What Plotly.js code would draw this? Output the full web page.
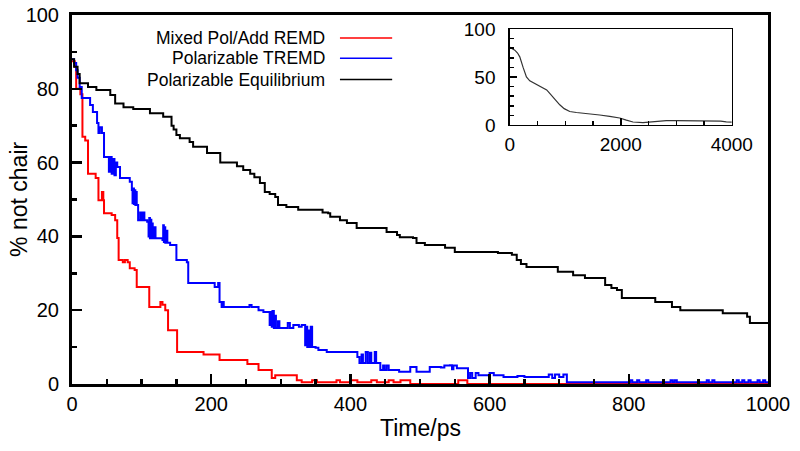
<!DOCTYPE html>
<html>
<head>
<meta charset="utf-8">
<script src="https://cdn.plot.ly/plotly-3.0.1.min.js"></script>
<style>html,body{margin:0;padding:0;background:#fff;}#chart{width:800px;height:451px;}</style>
</head>
<body>
<div id="chart"></div>
<script>
// Series names
const seriesNames = ["Mixed Pol/Add REMD", "Polarizable TREMD", "Polarizable Equilibrium"];

// Axis titles
const xTitle = "Time/ps";
const yTitle = "% not chair";

// Mixed Pol/Add REMD (red)
const redX = [0,4,6,12,15,19,23,34,38,43,45,46,57,62,65,67,73,76,80,83,90,93,111,127,130,134,138,151,189,212,252,268,287,292,323,330,345,352,380,385,400,410,430,438,455,462,472,486,555,568,1000];
const redY = [87.5,86,80,78.5,67,66,57,55.8,49.8,52,49.8,46.3,45.8,44.4,39.6,33.6,33,33.6,33,31.4,30.9,26.3,20.9,22.2,21.5,20,14.6,8.7,8,6.5,5.4,3.8,1.6,2.4,1,0.5,1,0.5,1,0.5,1,0.5,1,0.5,1,0.5,1,0,1,0,0];

// Polarizable TREMD (blue)
const blueX = [0,3,6,8,11,14,26,30,36,38,40,43,46,52,53,55,57,59,61,63,65,69,83,86,87,88,89,90,91,92,93,95,98,100,102,104,108,110,111,112,113,114,115,116,118,120,130,131,132,133,134,135,137,141,150,165,167,205,210,212,215,217,218,255,258,268,275,284,285,287,288,290,291,293,296,298,310,313,318,326,330,335,336,338,339,341,343,345,350,354,366,410,413,416,418,422,425,428,430,435,437,443,447,449,452,455,470,486,495,514,530,535,543,546,548,553,569,572,575,580,584,600,606,620,640,650,685,690,694,700,706,711,802,805,812,815,825,828,860,863,866,869,912,915,920,923,955,958,963,966,972,975,985,988,993,996,1000];
const blueY = [88,87,85,83,80.5,77.5,75.6,73.7,70.7,68,69.6,68,61.5,61.5,57.5,61.5,57,61,56.6,60,58.8,55.8,54.8,52.6,49,53,48.8,52.5,48.5,52,48.5,44.4,46.5,44.4,46.5,44.4,44,40,45,39.5,44.5,39.5,43.5,39.5,42.5,39.5,39,43,38.5,42.5,38.3,41.5,38.3,37.7,33.6,33,27.4,26.3,27.4,22.2,20.9,22.2,20.9,21.4,20.9,20,19.5,16,19.5,15.5,19.8,15.2,18.5,15.2,17,15.2,16.5,15.2,16,15.5,16,10.5,15.5,10,14.5,10,15.5,10,9.8,9.2,8.7,7.3,5.7,8,5.7,8.7,5.7,8.5,5.7,8.7,5.7,3.8,5,3.8,5,3.8,3.3,4.6,3.3,4.6,4.5,5,5.1,4,5,4.3,1.6,3,1.6,3,2.4,3,2.4,1.9,2.2,1.9,2.6,1.6,2.6,1.9,2.6,0.5,1,0.5,1,0.5,1,0.5,1,0.5,1,0.5,1,0.5,1,0.5,1,0.5,1,0.5,1,0.5,1,0.5,1,0.5,0.5];

// Polarizable Equilibrium (black)
const blackX = [0,3,8,11,23,35,55,62,74,88,112,131,143,146,150,155,169,174,194,213,237,246,256,262,270,277,284,292,296,308,325,360,368,371,385,395,409,452,467,471,490,495,507,536,550,612,632,639,645,653,698,720,737,766,775,783,790,838,862,874,935,970,974,1000];
const blackY = [88,86,84,81.5,80.5,79.7,78.3,76,75,74.5,73.4,72.4,70,69,67.5,66.6,65.6,64.3,62.6,60,59,58,57,56,54.5,52,51.5,50.7,48.5,48,47.2,46.5,46.3,45.3,44.4,43.6,42.3,41.2,40.4,39.8,39.6,38.2,37.7,36.9,35.8,35.5,35,33.6,32.5,31.7,30.4,29.5,28.7,26.8,26,25.5,23.3,22.2,20.9,20,19.2,18.2,16.5,16.5];

// Inset: Polarizable Equilibrium over 4000 ps
const insetX = [0,40,90,140,180,240,300,360,420,540,665,720,780,840,900,980,1080,1200,1300,1450,1620,1800,1980,2100,2220,2400,2500,2700,2820,3000,3200,3500,3800,3900,4000];
const insetY = [81,80,78,75,71,60,50,46,44,40,36.5,33,29,25,21,17,14,13,12.5,11.5,10.4,9,7.3,5,3.1,2.5,3.1,3.5,4.5,4.5,4.5,4.2,4,3.2,3];

// Tick labels
const mainXTicks = [0,200,400,600,800,1000];
const mainYTicks = [0,20,40,60,80,100];
const insetXTicks = [0,2000,4000];
const insetYTicks = [0,50,100];

const colors = ["#ff0000", "#0000ff", "#000000"];
const FONT = "Liberation Sans, Arial, Helvetica, sans-serif";

const traces = [
  {x: redX, y: redY, type: "scatter", mode: "lines", line: {color: colors[0], width: 2, shape: "hv"}, name: seriesNames[0], xaxis: "x", yaxis: "y"},
  {x: blueX, y: blueY, type: "scatter", mode: "lines", line: {color: colors[1], width: 2, shape: "hv"}, name: seriesNames[1], xaxis: "x", yaxis: "y"},
  {x: blackX, y: blackY, type: "scatter", mode: "lines", line: {color: colors[2], width: 2, shape: "hv"}, name: seriesNames[2], xaxis: "x", yaxis: "y"},
  {x: insetX, y: insetY, type: "scatter", mode: "lines", line: {color: "#333333", width: 1.2}, name: "inset", xaxis: "x2", yaxis: "y2"}
];

// legend rows built from series names (text right, sample line on the right)
const legY = [0.938, 0.883, 0.825];
const annotations = seriesNames.map((n, i) => ({
  xref: "paper", yref: "paper", x: 0.366, y: legY[i], xanchor: "right", yanchor: "middle",
  text: n, showarrow: false, font: {family: FONT, size: 17.5, color: "#000"}
}));
annotations.push({
  xref: "paper", yref: "paper", x: 0.5, y: -0.119, xanchor: "center", yanchor: "middle",
  text: xTitle, showarrow: false, font: {family: FONT, size: 23, color: "#000"}
});
annotations.push({
  xref: "paper", yref: "paper", x: -0.077, y: 0.5, xanchor: "center", yanchor: "middle",
  text: yTitle, textangle: -90, showarrow: false, font: {family: FONT, size: 23, color: "#000"}
});
const shapes = seriesNames.map((n, i) => ({
  type: "line", xref: "paper", yref: "paper", x0: 0.385, x1: 0.460, y0: legY[i], y1: legY[i],
  line: {color: colors[i], width: 1.5}
}));

const layout = {
  width: 800, height: 451,
  margin: {l: 72, r: 32, t: 15, b: 67},
  paper_bgcolor: "#fff", plot_bgcolor: "#fff",
  showlegend: false,
  font: {family: FONT, color: "#000"},
  xaxis: {
    domain: [0, 1], range: [0, 1000], showgrid: false, zeroline: false,
    showline: true, linewidth: 3, linecolor: "#000", mirror: true,
    ticks: "inside", ticklen: 10, tickwidth: 2.5, tickcolor: "#000",
    tickvals: mainXTicks, ticktext: mainXTicks.map(String),
    minor: {dtick: 50, ticks: "inside", ticklen: 5, tickwidth: 2.5, tickcolor: "#000", showgrid: false},
    tickfont: {family: FONT, size: 20}, ticklabelstandoff: 0
  },
  yaxis: {
    domain: [0, 1], range: [0, 100], showgrid: false, zeroline: false,
    showline: true, linewidth: 3, linecolor: "#000", mirror: true,
    ticks: "inside", ticklen: 10, tickwidth: 2.5, tickcolor: "#000",
    tickvals: mainYTicks, ticktext: mainYTicks.map(String),
    minor: {dtick: 10, ticks: "inside", ticklen: 5, tickwidth: 2.5, tickcolor: "#000", showgrid: false},
    tickfont: {family: FONT, size: 20}, ticklabelstandoff: 6
  },
  xaxis2: {
    domain: [0.629, 0.948], anchor: "y2", range: [0, 4000], showgrid: false, zeroline: false,
    showline: true, linewidth: 1.5, linecolor: "#000", mirror: true,
    ticks: "inside", ticklen: 7, tickwidth: 1.5, tickcolor: "#000",
    tickvals: insetXTicks, ticktext: insetXTicks.map(String),
    minor: {dtick: 500, ticks: "inside", ticklen: 4, tickwidth: 1.5, tickcolor: "#000", showgrid: false},
    tickfont: {family: FONT, size: 19}, ticklabelstandoff: 2
  },
  yaxis2: {
    domain: [0.702, 0.962], anchor: "x2", range: [0, 100], showgrid: false, zeroline: false,
    showline: true, linewidth: 1.5, linecolor: "#000", mirror: true,
    ticks: "inside", ticklen: 7, tickwidth: 1.5, tickcolor: "#000",
    tickvals: insetYTicks, ticktext: insetYTicks.map(String),
    minor: {dtick: 10, ticks: "inside", ticklen: 4, tickwidth: 1.5, tickcolor: "#000", showgrid: false},
    tickfont: {family: FONT, size: 19}, ticklabelstandoff: 9
  },
  annotations: annotations,
  shapes: shapes
};

Plotly.newPlot("chart", traces, layout, {displayModeBar: false, staticPlot: true});
</script>
</body>
</html>
